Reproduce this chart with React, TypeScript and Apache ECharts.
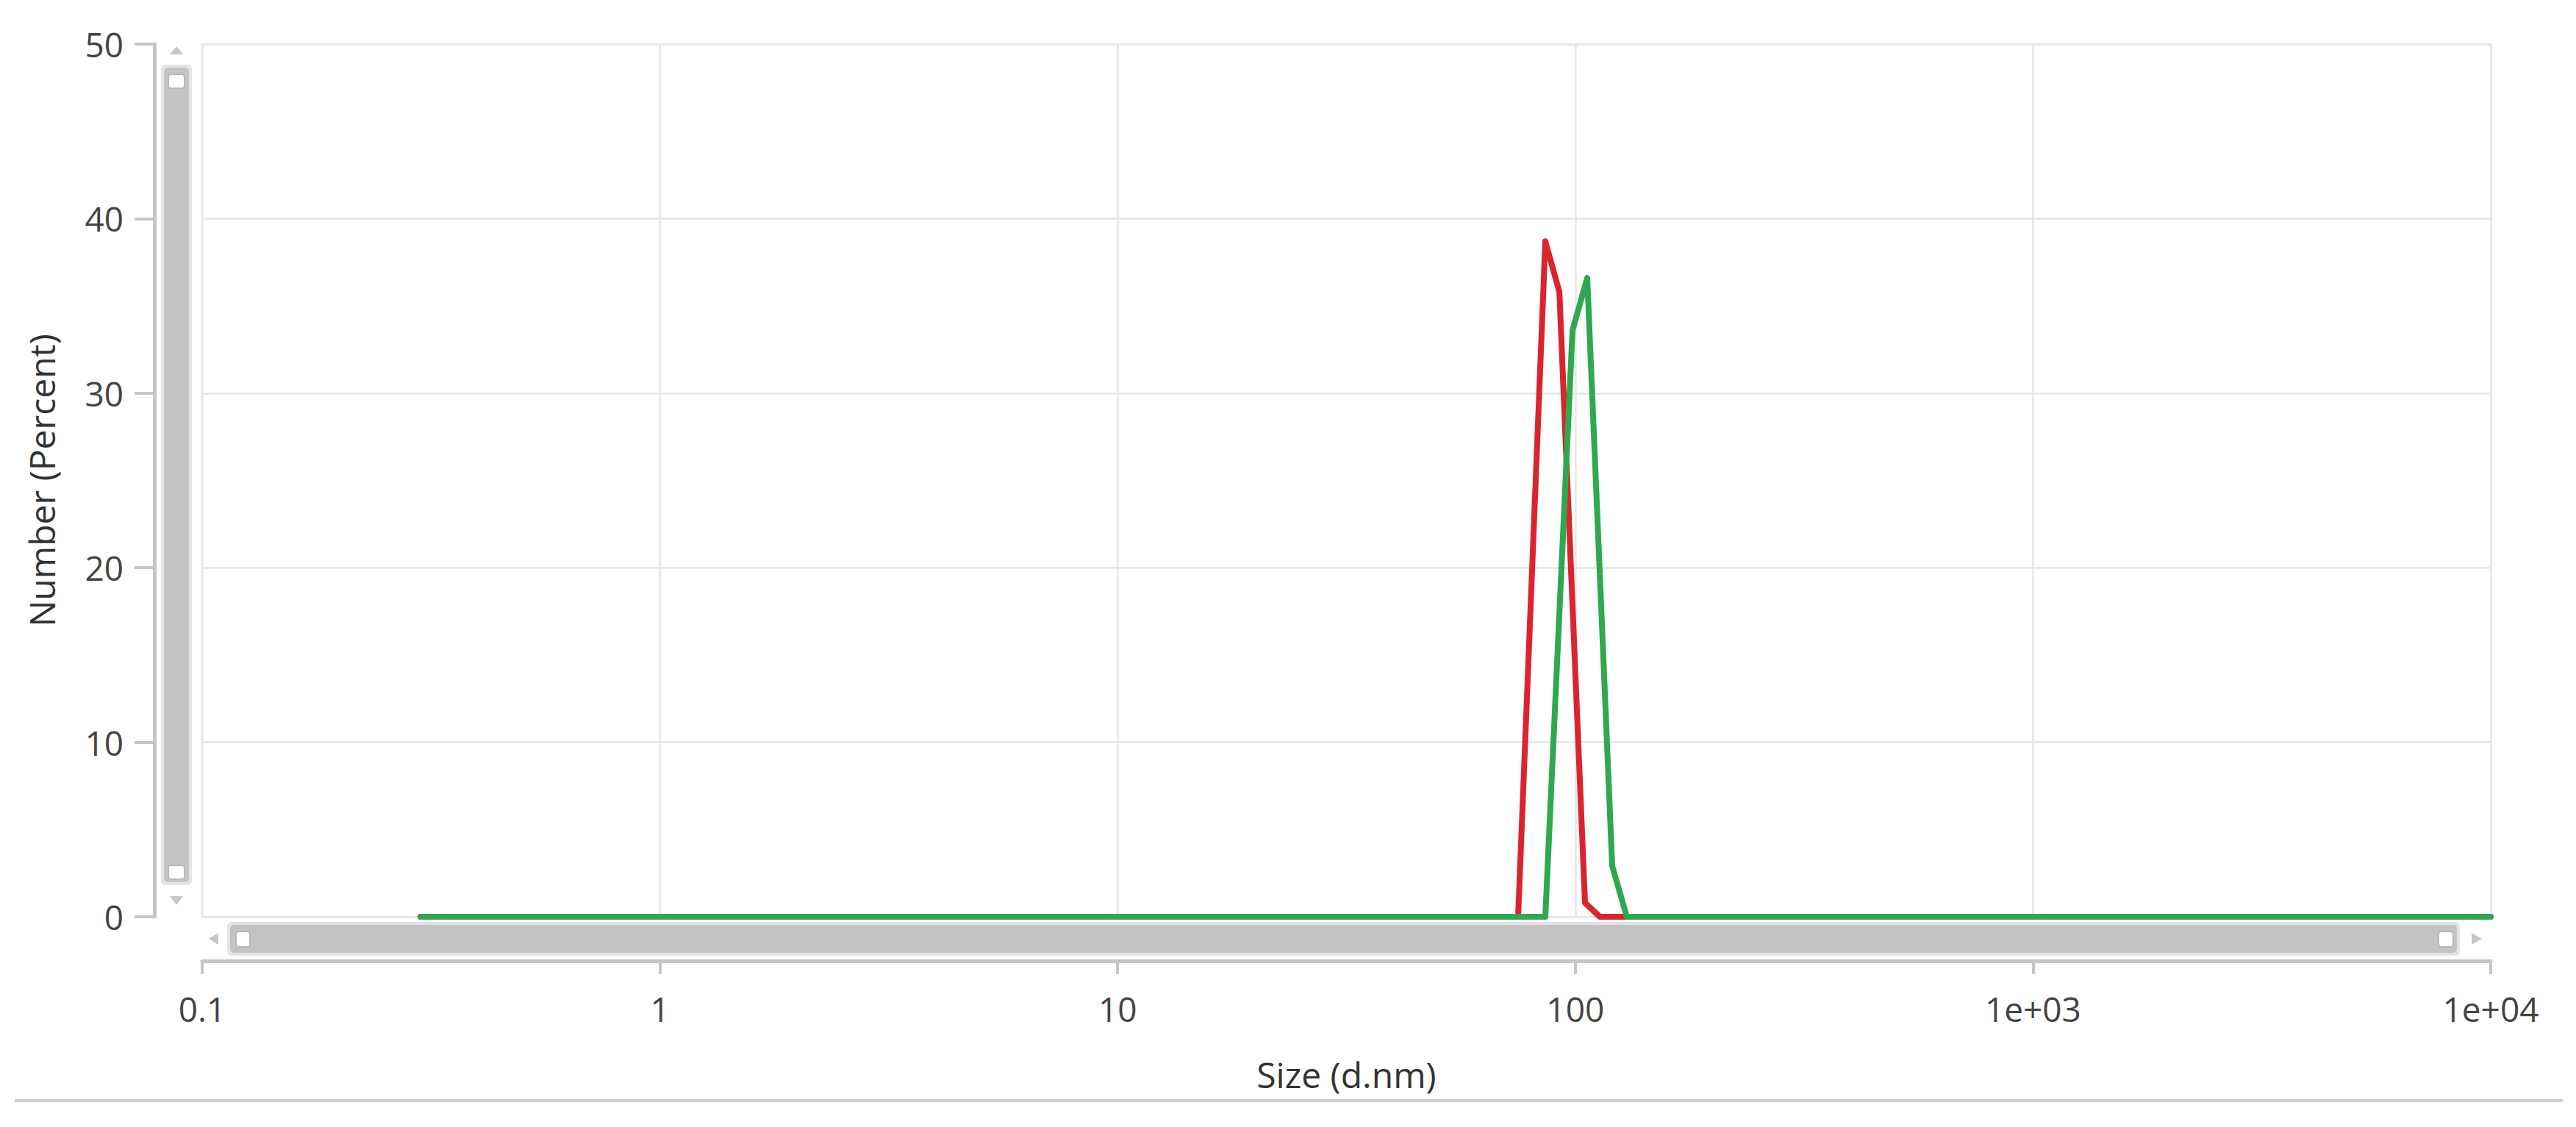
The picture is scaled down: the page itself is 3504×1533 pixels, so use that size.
import React, { useEffect, useRef } from "react";
import * as echarts from "echarts";

// ---- data ----
const redSizes = [0.3, 75.0, 86.0, 92.3, 105.0, 113.1, 10000];
const redValues = [0, 0, 38.7, 35.8, 0.8, 0, 0];
const greenSizes = [0.3, 86.0, 98.6, 106.2, 120.4, 129.6, 10000];
const greenValues = [0, 0, 33.6, 36.6, 2.9, 0, 0];
const xTickLabels = ["0.1", "1", "10", "100", "1e+03", "1e+04"];
const yTicks = [0, 10, 20, 30, 40, 50];

const FONT = "'Open Sans', 'Noto Sans', sans-serif";

export default function App() {
  const ref = useRef<HTMLDivElement>(null);
  useEffect(() => {
    if (!ref.current) return;
    const chart = echarts.init(ref.current, undefined, { renderer: "svg" });
    const red = redSizes.map((s, i) => [s, redValues[i]]);
    const green = greenSizes.map((s, i) => [s, greenValues[i]]);
    const thumb = "#c3c3c3";
    const track = "#e4e4e4";
    const arrow = "#c6c6c6";
    chart.setOption({
      animation: false,
      backgroundColor: "#ffffff",
      textStyle: { fontFamily: FONT },
      grid: {
        left: 275,
        right: 116,
        top: 60,
        bottom: 286,
        show: true,
        borderColor: "#ececec",
        borderWidth: 2,
      },
      xAxis: {
        type: "log",
        logBase: 10,
        min: 0.1,
        max: 10000,
        offset: 60,
        name: "Size (d.nm)",
        nameLocation: "middle",
        nameGap: 130,
        nameTextStyle: { fontFamily: FONT, fontSize: 48, color: "#333333" },
        axisLine: { show: true, onZero: false, lineStyle: { color: "#c6c6c6", width: 5 } },
        axisTick: { show: true, length: 18, lineStyle: { color: "#c6c6c6", width: 4 } },
        minorTick: { show: false },
        axisLabel: {
          margin: 42,
          fontFamily: FONT,
          fontSize: 46,
          color: "#444444",
          showMinLabel: true,
          showMaxLabel: true,
          formatter: (v: number) => {
            const i = Math.round(Math.log10(v)) + 1;
            return xTickLabels[i] ?? "";
          },
        },
        splitLine: { show: true, lineStyle: { color: "#e6e6e6", width: 2.5 } },
      },
      yAxis: {
        type: "value",
        min: yTicks[0],
        max: yTicks[yTicks.length - 1],
        interval: 10,
        offset: 65,
        name: "Number (Percent)",
        nameLocation: "middle",
        nameGap: 130,
        nameTextStyle: { fontFamily: FONT, fontSize: 48, color: "#333333" },
        axisLine: { show: true, onZero: false, lineStyle: { color: "#c6c6c6", width: 5 } },
        axisTick: { show: true, length: 27, lineStyle: { color: "#c6c6c6", width: 4 } },
        axisLabel: {
          margin: 42,
          fontFamily: FONT,
          fontSize: 46,
          color: "#444444",
        },
        splitLine: { show: true, lineStyle: { color: "#e6e6e6", width: 2.5 } },
      },
      series: [
        {
          name: "red",
          type: "line",
          data: red,
          symbol: "none",
          lineStyle: { color: "#d9252d", width: 8, join: "round", cap: "round" },
          itemStyle: { color: "#d9252d" },
          z: 2,
        },
        {
          name: "green",
          type: "line",
          data: green,
          symbol: "none",
          lineStyle: { color: "#2fa850", width: 8, join: "round", cap: "round" },
          itemStyle: { color: "#2fa850" },
          z: 3,
        },
      ],
      graphic: [
        // vertical scrollbar
        { type: "rect", shape: { x: 219, y: 88, width: 42, height: 1116, r: 6 }, style: { fill: track }, z: 10 },
        { type: "rect", shape: { x: 223, y: 92, width: 34, height: 1108, r: 5 }, style: { fill: thumb }, z: 11 },
        { type: "rect", shape: { x: 229, y: 101, width: 22, height: 19, r: 4 }, style: { fill: "#ffffff", stroke: "#b8b8b8", lineWidth: 2 }, z: 12 },
        { type: "rect", shape: { x: 229, y: 1177, width: 22, height: 19, r: 4 }, style: { fill: "#ffffff", stroke: "#b8b8b8", lineWidth: 2 }, z: 12 },
        { type: "polygon", shape: { points: [[240, 63], [231, 74], [249, 74]] }, style: { fill: arrow }, z: 12 },
        { type: "polygon", shape: { points: [[240, 1231], [231, 1219], [249, 1219]] }, style: { fill: arrow }, z: 12 },
        // horizontal scrollbar
        { type: "rect", shape: { x: 309, y: 1254, width: 3037, height: 46, r: 6 }, style: { fill: track }, z: 10 },
        { type: "rect", shape: { x: 313, y: 1258, width: 3029, height: 38, r: 5 }, style: { fill: thumb }, z: 11 },
        { type: "rect", shape: { x: 321, y: 1267, width: 19, height: 21, r: 4 }, style: { fill: "#ffffff", stroke: "#b8b8b8", lineWidth: 2 }, z: 12 },
        { type: "rect", shape: { x: 3317, y: 1267, width: 20, height: 21, r: 4 }, style: { fill: "#ffffff", stroke: "#b8b8b8", lineWidth: 2 }, z: 12 },
        { type: "polygon", shape: { points: [[284, 1277], [297, 1269], [297, 1285]] }, style: { fill: arrow }, z: 12 },
        { type: "polygon", shape: { points: [[3376, 1277], [3362, 1269], [3362, 1285]] }, style: { fill: arrow }, z: 12 },
        // bottom separator line
        { type: "line", shape: { x1: 20, y1: 1497, x2: 3486, y2: 1497 }, style: { stroke: "#cfcfcf", lineWidth: 4 }, z: 10 },
      ],
    });
    return () => chart.dispose();
  }, []);
  return (
    <div
      ref={ref}
      style={{ position: "fixed", left: 0, top: 0, width: 3504, height: 1533, background: "#ffffff" }}
    />
  );
}
